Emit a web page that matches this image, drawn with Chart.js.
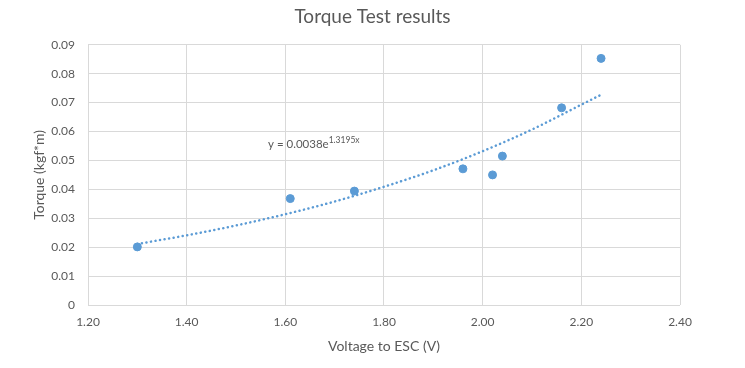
<!DOCTYPE html>
<html lang="en">
<head>
    <meta charset="UTF-8">
    <title>Torque Test results</title>
    <style>
        body {
            margin: 0;
            padding: 0;
            background-color: #fff;
        }
        .chart-container {
            width: 745px;
            height: 368px;
            position: relative;
        }
    </style>
    <script src="https://cdn.jsdelivr.net/npm/chart.js"></script>
</head>
<body>

    <div class="chart-container">
        <canvas id="torqueChart"></canvas>
    </div>

    <script>
        // Measured points
        const voltage = [1.30, 1.61, 1.74, 1.96, 2.02, 2.04, 2.16, 2.24];
        const torque = [0.0201, 0.0368, 0.0394, 0.0471, 0.0450, 0.0515, 0.0682, 0.0853];

        // Exponential trendline
        const trendVoltage = [1.30, 1.40, 1.50, 1.60, 1.70, 1.80, 1.90, 2.00, 2.10, 2.20, 2.24];
        const trendTorque = [0.0211, 0.0241, 0.0275, 0.0314, 0.0358, 0.0409, 0.0466, 0.0532, 0.0607, 0.0693, 0.0727];

        const equationText = 'y = 0.0038e';
        const equationExp = '1.3195x';

        const textColor = '#595959';
        const gridColor = '#d9d9d9';
        const blue = '#5b9bd5';
        const fontFamily = 'Lato, "Open Sans", sans-serif';

        // Draws the trendline equation with a superscript exponent
        const equationLabel = {
            id: 'equationLabel',
            afterDatasetsDraw(chart) {
                const ctx = chart.ctx;
                const x = chart.scales.x.getPixelForValue(1.565);
                const y = chart.scales.y.getPixelForValue(0.0557);
                ctx.save();
                ctx.fillStyle = textColor;
                ctx.textBaseline = 'middle';
                ctx.font = '11.5px ' + fontFamily;
                ctx.fillText(equationText, x, y);
                const w = ctx.measureText(equationText).width;
                ctx.font = '8.5px ' + fontFamily;
                ctx.fillText(equationExp, x + w, y - 4);
                ctx.restore();
            }
        };

        const ctx = document.getElementById('torqueChart').getContext('2d');
        const torqueChart = new Chart(ctx, {
            type: 'scatter',
            data: {
                datasets: [{
                    label: 'Torque',
                    data: voltage.map((v, i) => ({ x: v, y: torque[i] })),
                    backgroundColor: blue,
                    borderColor: blue,
                    pointRadius: 4,
                    pointHoverRadius: 4,
                    order: 1
                }, {
                    label: 'Trend',
                    type: 'line',
                    data: trendVoltage.map((v, i) => ({ x: v, y: trendTorque[i] })),
                    borderColor: blue,
                    borderWidth: 2.5,
                    borderDash: [0.1, 4.5],
                    borderCapStyle: 'round',
                    cubicInterpolationMode: 'monotone',
                    pointRadius: 0,
                    fill: false,
                    order: 2
                }]
            },
            options: {
                responsive: true,
                maintainAspectRatio: false,
                animation: false,
                layout: {
                    padding: 0
                },
                plugins: {
                    legend: { display: false },
                    tooltip: { enabled: false },
                    title: {
                        display: true,
                        text: 'Torque Test results',
                        color: textColor,
                        font: { family: fontFamily, size: 19, weight: 'normal' },
                        padding: { top: 5, bottom: 17 }
                    }
                },
                scales: {
                    x: {
                        type: 'linear',
                        min: 1.2,
                        max: 2.4,
                        afterFit(scale) { scale.height = 63; },
                        ticks: {
                            stepSize: 0.2,
                            color: textColor,
                            padding: 10,
                            font: { family: fontFamily, size: 12 },
                            callback: v => v.toFixed(2)
                        },
                        grid: { color: gridColor, drawTicks: false },
                        border: { display: false },
                        title: {
                            display: true,
                            text: 'Voltage to ESC (V)',
                            color: textColor,
                            font: { family: fontFamily, size: 14 },
                            padding: { top: 4, bottom: 13 }
                        }
                    },
                    y: {
                        min: 0,
                        max: 0.09,
                        afterFit(scale) { scale.width = 88; },
                        ticks: {
                            stepSize: 0.01,
                            color: textColor,
                            padding: 13,
                            font: { family: fontFamily, size: 12 },
                            callback: v => v === 0 ? '0' : v.toFixed(2)
                        },
                        grid: { color: gridColor, drawTicks: false },
                        border: { display: false },
                        title: {
                            display: true,
                            text: 'Torque (kgf*m)',
                            color: textColor,
                            font: { family: fontFamily, size: 14 },
                            padding: { top: 31, bottom: 0 }
                        }
                    },
                    // empty right-hand axis that only reserves the right margin
                    yRight: {
                        position: 'right',
                        afterFit(scale) { scale.width = 65; },
                        ticks: { display: false },
                        grid: { display: false },
                        border: { display: false }
                    }
                }
            },
            plugins: [equationLabel]
        });
    </script>

</body>
</html>
